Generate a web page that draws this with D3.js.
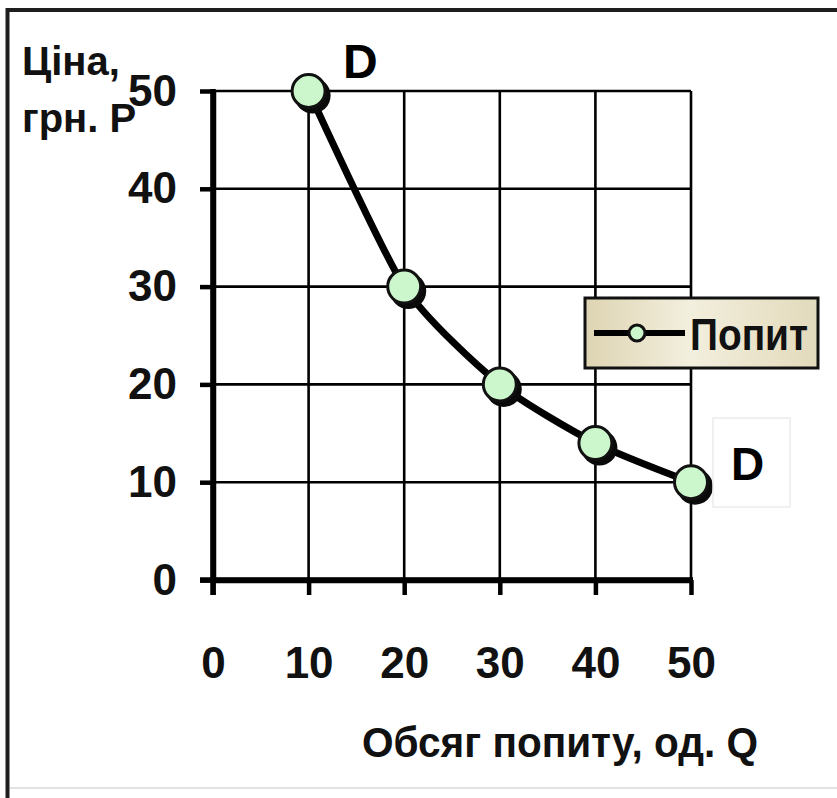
<!DOCTYPE html>
<html>
<head>
<meta charset="utf-8">
<script src="https://cdn.jsdelivr.net/npm/d3@7"></script>
<style>
  html, body { margin: 0; padding: 0; background: #fff; }
  svg { display: block; font-family: "Liberation Sans", Arial, sans-serif; }
</style>
</head>
<body>
<svg id="chart" width="837" height="798"></svg>
<script>
// ---- data ----
const quantity = [10, 20, 30, 40, 50];
const price = [50, 30, 20, 14, 10];
const xTicks = [0, 10, 20, 30, 40, 50];
const yTicks = [0, 10, 20, 30, 40, 50];
const seriesName = "Попит";
const yTitle = ["Ціна,", "грн. Р"];
const xTitle = "Обсяг попиту, од. Q";
const curveLabel = "D";

const svg = d3.select("#chart");
const x = d3.scaleLinear().domain([0, 50]).range([213, 691]);
const y = d3.scaleLinear().domain([0, 50]).range([580, 91]);

// frame
svg.append("line").attr("x1", 7.5).attr("x2", 7.5).attr("y1", 8).attr("y2", 798)
  .attr("stroke", "#1e1e1e").attr("stroke-width", 4);
svg.append("line").attr("x1", 6).attr("x2", 837).attr("y1", 10).attr("y2", 10)
  .attr("stroke", "#1e1e1e").attr("stroke-width", 4);
svg.append("line").attr("x1", 10).attr("x2", 837).attr("y1", 788).attr("y2", 788)
  .attr("stroke", "#e2e2e2").attr("stroke-width", 2);

// gridlines
const grid = svg.append("g").attr("stroke", "#000").attr("stroke-width", 2.6);
grid.selectAll(".h").data(yTicks.filter(d => d > 0)).join("line")
  .attr("x1", x(0)).attr("x2", x(50)).attr("y1", d => y(d)).attr("y2", d => y(d));
grid.selectAll(".v").data(xTicks.filter(d => d > 0)).join("line")
  .attr("y1", y(0)).attr("y2", y(50)).attr("x1", d => x(d)).attr("x2", d => x(d));

// axes
const yAxis = svg.append("g").attr("transform", `translate(${x(0)},0)`)
  .call(d3.axisLeft(y).tickValues(yTicks).tickSize(13).tickSizeOuter(0).tickPadding(23));
const xAxis = svg.append("g").attr("transform", `translate(0,${y(0)})`)
  .call(d3.axisBottom(x).tickValues(xTicks).tickSize(15).tickSizeOuter(0).tickPadding(52));
[yAxis, xAxis].forEach(g => {
  g.attr("font-family", null).attr("font-size", null);
  g.select(".domain").attr("stroke", "#000").attr("stroke-width", 5.5);
  g.selectAll(".tick line").attr("stroke", "#000").attr("stroke-width", 4.5);
  g.selectAll(".tick text").attr("fill", "#111").style("font-size", "44px").style("font-weight", "bold");
});
// extend axes to form the corner ticks
svg.append("line").attr("x1", x(0)).attr("x2", x(0)).attr("y1", y(50) - 2).attr("y2", y(0) + 15)
  .attr("stroke", "#000").attr("stroke-width", 5.5);
svg.append("line").attr("x1", x(0) - 13).attr("x2", x(50) + 2).attr("y1", y(0)).attr("y2", y(0))
  .attr("stroke", "#000").attr("stroke-width", 5.5);

// series line
const pts = quantity.map((q, i) => [q, price[i]]);
const line = d3.line().x(d => x(d[0])).y(d => y(d[1])).curve(d3.curveCardinal.tension(0.35));
svg.append("path").datum(pts).attr("d", line).attr("fill", "none")
  .attr("stroke", "#000").attr("stroke-width", 7).attr("stroke-linejoin", "round");

// markers with shadow
const mk = svg.append("g");
mk.selectAll(".sh").data(pts).join("circle")
  .attr("cx", d => x(d[0]) + 4).attr("cy", d => y(d[1]) + 4.5).attr("r", 18).attr("fill", "#0a0a0a");
mk.selectAll(".m").data(pts).join("circle")
  .attr("cx", d => x(d[0])).attr("cy", d => y(d[1])).attr("r", 16.5)
  .attr("fill", "#ccf6cc").attr("stroke", "#111").attr("stroke-width", 3);

// D labels
svg.append("text").attr("x", 343).attr("y", 78).text(curveLabel)
  .style("font-size", "48px").style("font-weight", "bold").attr("fill", "#000");
svg.append("rect").attr("x", 713).attr("y", 418).attr("width", 77).attr("height", 89)
  .attr("fill", "none").attr("stroke", "#ececec").attr("stroke-width", 1.5);
svg.append("text").attr("x", 731).attr("y", 480).text(curveLabel)
  .style("font-size", "46px").style("font-weight", "bold").attr("fill", "#000");

// legend
const defs = svg.append("defs");
const gr = defs.append("linearGradient").attr("id", "lg").attr("x1", "0").attr("x2", "1").attr("y1", "0").attr("y2", "0");
gr.append("stop").attr("offset", "0").attr("stop-color", "#ddd4b2");
gr.append("stop").attr("offset", "0.45").attr("stop-color", "#f3efde");
gr.append("stop").attr("offset", "1").attr("stop-color", "#e2dabb");
const lg = svg.append("g");
lg.append("rect").attr("x", 585).attr("y", 298).attr("width", 233).attr("height", 70)
  .attr("fill", "url(#lg)").attr("stroke", "#111").attr("stroke-width", 3);
lg.append("line").attr("x1", 594).attr("x2", 685).attr("y1", 333).attr("y2", 333)
  .attr("stroke", "#000").attr("stroke-width", 6);
lg.append("circle").attr("cx", 637).attr("cy", 333).attr("r", 8)
  .attr("fill", "#ccf6cc").attr("stroke", "#111").attr("stroke-width", 3);
lg.append("text").attr("x", 690).attr("y", 350).text(seriesName)
  .attr("textLength", 118).attr("lengthAdjust", "spacingAndGlyphs")
  .style("font-size", "44px").style("font-weight", "bold").attr("fill", "#111");

// axis titles
svg.append("text").attr("x", 22).attr("y", 75).text(yTitle[0])
  .style("font-size", "40px").style("font-weight", "bold").attr("fill", "#111");
svg.append("text").attr("x", 22).attr("y", 132).text(yTitle[1])
  .style("font-size", "40px").style("font-weight", "bold").attr("fill", "#111");
svg.append("text").attr("x", 362).attr("y", 757).text(xTitle)
  .attr("textLength", 396).attr("lengthAdjust", "spacingAndGlyphs")
  .style("font-size", "42px").style("font-weight", "bold").attr("fill", "#111");
</script>
</body>
</html>
